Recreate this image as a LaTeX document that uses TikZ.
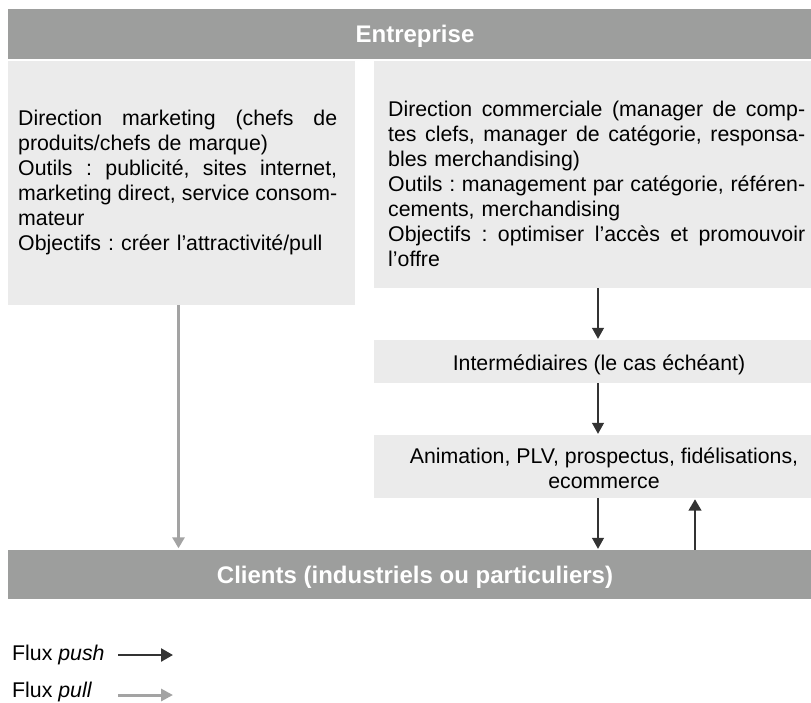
\documentclass[tikz,border=0pt]{standalone}
\usepackage{fontspec}
\setmainfont{Liberation Sans}
\usetikzlibrary{arrows.meta,calc}
\definecolor{barc}{HTML}{9D9E9D}
\definecolor{boxc}{HTML}{EBEBEB}
\definecolor{pushc}{HTML}{333333}
\definecolor{pullc}{HTML}{A3A3A3}
\newcommand{\jl}[2]{\leavevmode\hbox to #1{\spaceskip=\fontdimen2\font plus 1fil\relax #2}}
\frenchspacing
\tikzset{
  bar/.style={fill=barc, draw=none, inner sep=0pt, minimum width=814pt, minimum height=50pt},
  lightbox/.style={fill=boxc, draw=none, inner sep=0pt},
  titletxt/.style={text=white, font=\fontsize{24}{28}\selectfont\bfseries, inner sep=0pt, anchor=base},
  bodytxt/.style={font=\fontsize{21.3}{25}\selectfont\frenchspacing, inner sep=0pt, anchor=base west},
  pushthin/.style={draw=pushc, line width=1.2pt, -{Triangle[length=11pt,width=12pt]}, shorten >=1pt},
  pushthick/.style={draw=pushc, line width=2.8pt, -{Triangle[length=11.5pt,width=12.5pt]}, shorten >=1pt},
  pullarrow/.style={draw=pullc, line width=3pt, -{Triangle[length=11pt,width=12pt]}, shorten >=1.5pt},
  pushleg/.style={draw=pushc, line width=2.5pt, -{Triangle[length=12pt,width=13pt]}},
  pullleg/.style={draw=pullc, line width=3pt, -{Triangle[length=12pt,width=12pt]}}
}
\begin{document}
\begin{tikzpicture}[x=1pt,y=-1pt]
\useasboundingbox (0,0) rectangle (811,702);
\clip (0,0) rectangle (811,702);
\fill[white] (0,0) rectangle (811,702);
% bars and boxes
\node[bar] (ent) at (415,34) {};
\node[titletxt] (enttxt) at (415,42.5) {Entreprise};
\node[lightbox, minimum width=347pt, minimum height=244pt] (lb) at (181.5,183) {};
\node[lightbox, minimum width=449pt, minimum height=227pt] (rb) at (598,174.5) {};
\node[lightbox, minimum width=449pt, minimum height=43pt] (inter) at (598,361.5) {};
\node[lightbox, minimum width=449pt, minimum height=63pt] (anim) at (598,466.5) {};
\node[bar, minimum height=49pt] (cl) at (415,574.5) {};
\node[titletxt] (cltxt) at (415,583) {Clients (industriels ou particuliers)};
% texts
\node[bodytxt, text width=319pt] (lbtxt) at (18,125.7) {%
\jl{319pt}{Direction marketing (chefs de}\\
produits/chefs de marque)\\
\jl{319pt}{Outils : publicité, sites internet,}\\
\jl{319pt}{marketing direct, service consom-}\\
mateur\\
Objectifs : créer l’attractivité/pull};
\node[bodytxt, text width=417pt] (rbtxt) at (388,116) {%
\jl{417pt}{Direction commerciale (manager de comp-}\\
\jl{417pt}{tes clefs, manager de catégorie, responsa-}\\
bles merchandising)\\
\jl{417pt}{Outils : management par catégorie, référen-}\\
cements, merchandising\\
\jl{417pt}{Objectifs : optimiser l’accès et promouvoir}\\
l’offre};
\node[font=\fontsize{21.3}{25}\selectfont, inner sep=0pt, anchor=base] (intertxt) at (599,370.5) {Intermédiaires (le cas échéant)};
\node[font=\fontsize{21.3}{25}\selectfont, inner sep=0pt, anchor=base, align=center] (animtxt) at (604,488) {Animation, PLV, prospectus, fidélisations,\\ecommerce};
% connectors
\coordinate (upc) at (695,0);
\draw[pushthin] (rb.south) -- (inter.north);
\draw[pushthin] (inter.south) -- (anim.north);
\draw[pushthin] (anim.south) -- (anim.south |- cl.north);
\draw[pushthick] (cl.north -| upc) -- (anim.south -| upc);
\draw[pullarrow] ([xshift=-3pt]lb.south) -- ([xshift=-3pt]lb.south |- cl.north);
% legend
\node[bodytxt] (legpush) at (12,660) {Flux \textit{push}};
\node[bodytxt] (legpull) at (12,697) {Flux \textit{pull}};
\coordinate (pushs) at (118,655);
\coordinate (pushe) at (173,655);
\coordinate (pulls) at (118,695);
\coordinate (pulle) at (173,695);
\draw[pushleg] (pushs) -- (pushe);
\draw[pullleg] (pulls) -- (pulle);
\end{tikzpicture}
\end{document}
